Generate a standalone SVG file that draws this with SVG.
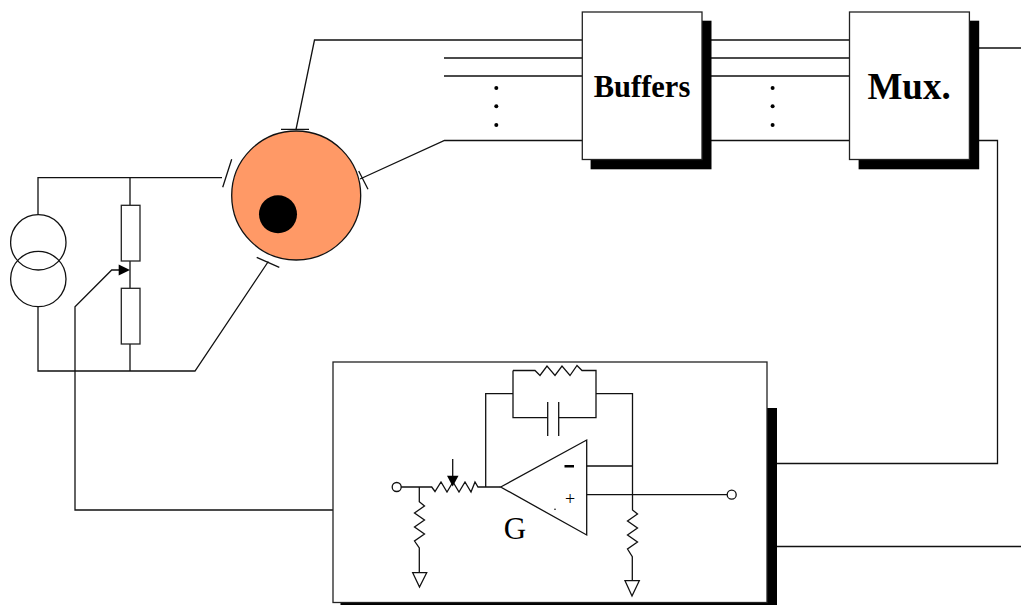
<svg xmlns="http://www.w3.org/2000/svg" width="1021" height="605" viewBox="0 0 1021 605">
<style>
.w{fill:none;stroke:#111;stroke-width:1.3}
.box{fill:#fff;stroke:#222;stroke-width:1.3}
.sh{fill:#000}
.t{font-family:"Liberation Serif","Times New Roman",serif;fill:#000}
.b{font-weight:bold}
.hollow{fill:#fff;stroke:#111;stroke-width:1.3}
.solid{fill:#000;stroke:none}
</style>
<rect width="1021" height="605" fill="#fff"/>
<g id="connectors">
<path class="w" d="M296 129.500L314.500 40H582M360 179L444.500 140.500H582M444 58H582M444 76H582"/>
<path class="w" d="M711 40H850M711 58H850M711 76H850M711 140.500H850"/>
<path class="w" d="M979 48H1021M979 140.500H997.500V463.500H777M777 546.500H1021"/>
<path class="w" d="M222 177.700H38V214.500M38 306.700V371H195L268.300 261.500M130 177.700V205M130 261V288M130 344V371"/>
<path class="w" d="M119 270H111.700L75 306.700V510H333"/>
<path class="w" d="M281 129.300H309M231.700 159.300L222.700 187.300M358.700 171L368 189.300M256.700 257.300L279.300 267.300"/>
</g>
<g id="sources">
<circle class="w" cx="38.300" cy="242.300" r="27.700"/>
<circle class="w" cx="38.300" cy="279" r="27.700"/>
</g>
<g id="divider">
<rect class="box" x="121.300" y="205.300" width="18.700" height="55.700"/>
<rect class="box" x="121.300" y="288.300" width="18.700" height="55.700"/>
<polygon class="solid" points="118.700,264.500 130,270 118.700,275.500"/>
</g>
<g id="sensor">
<circle cx="296.200" cy="195.500" r="64.500" fill="#ff9966" stroke="#111" stroke-width="1.300"/>
<circle cx="278" cy="214.300" r="19" fill="#000"/>
</g>
<g id="dots">
<circle class="solid" cx="496.300" cy="88" r="2"/>
<circle class="solid" cx="496.300" cy="106.300" r="2"/>
<circle class="solid" cx="496.300" cy="125" r="2"/>
<circle class="solid" cx="772.600" cy="88" r="2"/>
<circle class="solid" cx="772.600" cy="106.300" r="2"/>
<circle class="solid" cx="772.600" cy="125" r="2"/>
</g>
<g id="buffers">
<rect class="sh" x="590.600" y="20.700" width="120.900" height="148.600"/>
<rect class="box" x="582.300" y="12" width="119.700" height="147.500"/>
<text class="t b" x="642" y="97" font-size="30.500" text-anchor="middle">Buffers</text>
</g>
<g id="mux">
<rect class="sh" x="858.600" y="20.700" width="120.600" height="148.600"/>
<rect class="box" x="849.500" y="12" width="119.900" height="147.500"/>
<text class="t b" x="909" y="99" font-size="37" text-anchor="middle">Mux.</text>
</g>
<g id="amplifier">
<rect class="sh" x="340.500" y="408" width="436.500" height="197"/>
<rect class="box" x="333" y="362" width="434" height="240.500"/>
<path class="w" d="M401 487H431.700L435 491.500L441 482L447 492L453 482L459 492L465 482L471 492L475 482L478 487H500.700"/>
<path class="w" d="M419.300 487V501.700L424.500 506L414.500 513L424.500 520L414.500 527L424.500 534L414.500 541L419.300 548V572.700"/>
<polygon class="hollow" points="412.700,572.700 426.700,572.700 419.500,587"/>
<path class="w" d="M452.700 459V476"/>
<polygon class="solid" points="447,475.700 458.500,475.700 452.700,486.500"/>
<path class="w" d="M485.700 487V393.700H513M596 393.700H632.500V510L637.500 514L627.500 521L637.500 528L627.500 535L637.500 542L627.500 549L632.300 556.700V580.700"/>
<polygon class="hollow" points="625,580.700 639.300,580.700 632,596"/>
<path class="w" d="M513 370.500H535L540 375.500L547 366L555 375.500L562 366L570 375.500L577 365.500L582 370.500H596V417.700H558.700M547.700 417.700H513V370.500"/>
<path class="w" d="M547.700 402V436M558.700 402V436"/>
<polygon class="hollow" points="500.700,487 586.700,440 586.700,535"/>
<path class="w" d="M586.700 466H632.500M586.700 494.700H727"/>
<circle class="hollow" cx="396.700" cy="487" r="4.500"/>
<circle class="hollow" cx="731.700" cy="494.700" r="4.500"/>
<rect class="solid" x="564.500" y="465" width="9.500" height="2.500"/>
<text class="t" x="570" y="505" font-size="18" text-anchor="middle">+</text>
<circle class="solid" cx="555" cy="509.300" r="0.800"/>
<text class="t" x="515" y="539" font-size="31" text-anchor="middle">G</text>
</g>
</svg>
